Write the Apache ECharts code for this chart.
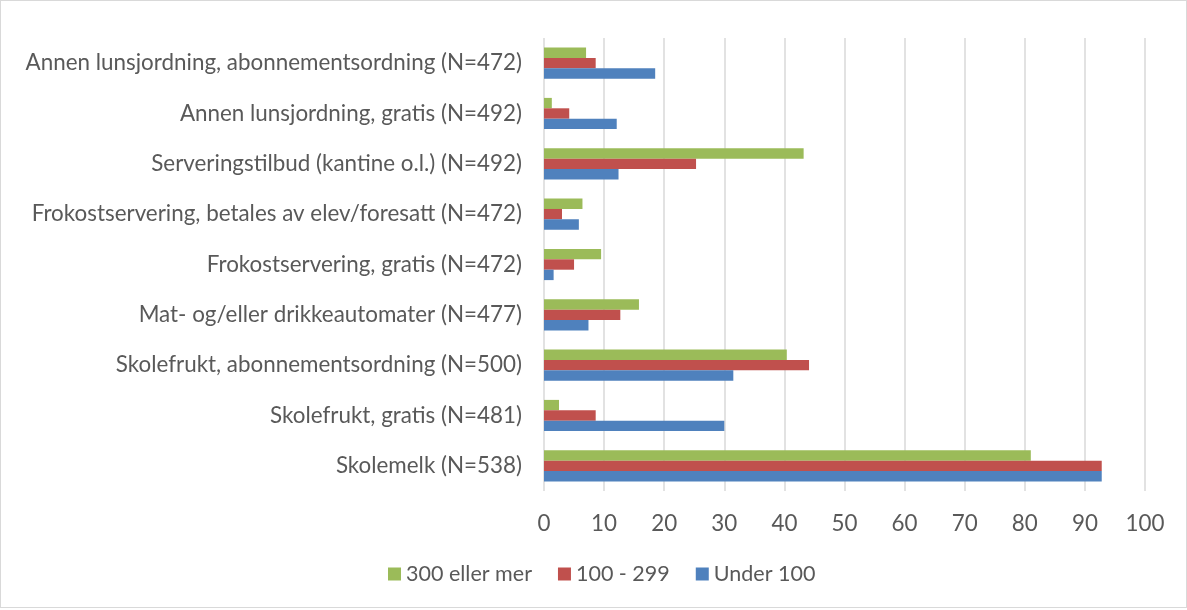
<!DOCTYPE html>
<html>
<head>
<meta charset="utf-8">
<script src="https://cdn.jsdelivr.net/npm/echarts@6/dist/echarts.min.js"></script>
<style>
  html, body { margin: 0; padding: 0; background: #fff; }
  #chart { width: 1185px; height: 606px; border: 1px solid #d9d9d9; }
</style>
</head>
<body>
<div id="chart"></div>
<script>
// categories, top to bottom
var categories = [
    'Annen lunsjordning, abonnementsordning (N=472)',
    'Annen lunsjordning, gratis (N=492)',
    'Serveringstilbud (kantine o.l.) (N=492)',
    'Frokostservering, betales av elev/foresatt (N=472)',
    'Frokostservering, gratis (N=472)',
    'Mat- og/eller drikkeautomater (N=477)',
    'Skolefrukt, abonnementsordning (N=500)',
    'Skolefrukt, gratis (N=481)',
    'Skolemelk (N=538)'
];

var seriesNames = ['300 eller mer', '100 - 299', 'Under 100'];

var large = [7.0, 1.3, 43.2, 6.4, 9.5, 15.8, 40.4, 2.5, 81.0];   // 300 eller mer
var medium = [8.6, 4.2, 25.3, 3.0, 5.0, 12.7, 44.1, 8.6, 92.8];  // 100 - 299
var small = [18.5, 12.1, 12.4, 5.8, 1.6, 7.4, 31.5, 30.0, 92.8]; // Under 100

var colors = ['#9bbb59', '#c0504d', '#4f81bd'];
var xTicks = { min: 0, max: 100, interval: 10 };

var fontFamily = 'Lato, "Open Sans", sans-serif';
var fontSize = 22.4;

function makeSeries(name, data, color) {
    return {
        name: name,
        type: 'bar',
        data: data,
        itemStyle: { color: color },
        barGap: '0%',
        barCategoryGap: '38%',
        animation: false
    };
}

var option = {
    animation: false,
    grid: {
        left: 543,
        right: 41,
        top: 37,
        bottom: 116
    },
    legend: {
        data: seriesNames,
        bottom: 17,
        left: 382,
        itemWidth: 13,
        itemHeight: 13,
        itemGap: 26,
        icon: 'rect',
        textStyle: { fontSize: 21.5, color: '#595959', fontFamily: fontFamily }
    },
    xAxis: {
        type: 'value',
        min: xTicks.min,
        max: xTicks.max,
        interval: xTicks.interval,
        axisLine: { show: false },
        axisTick: { show: false },
        axisLabel: { fontSize: fontSize, color: '#595959', fontFamily: fontFamily, margin: 22 },
        splitLine: { lineStyle: { color: '#d9d9d9', width: 1.5 } }
    },
    yAxis: {
        type: 'category',
        inverse: true,
        data: categories,
        axisLine: { show: false },
        axisTick: { show: false },
        axisLabel: { fontSize: fontSize, color: '#595959', fontFamily: fontFamily, margin: 22 }
    },
    series: [
        makeSeries(seriesNames[0], large, colors[0]),
        makeSeries(seriesNames[1], medium, colors[1]),
        makeSeries(seriesNames[2], small, colors[2])
    ]
};

var chart = echarts.init(document.getElementById('chart'));
chart.setOption(option);

window.addEventListener('resize', function () {
    chart.resize();
});
</script>
</body>
</html>
